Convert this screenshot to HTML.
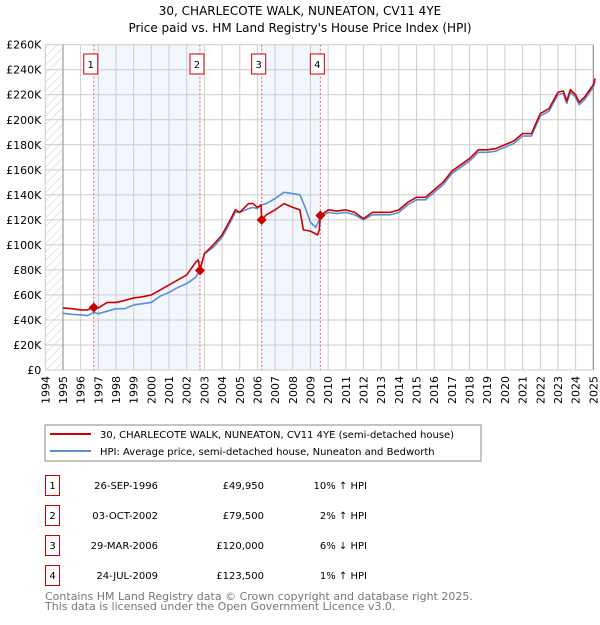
<!DOCTYPE html>
<html><head><meta charset="utf-8"><style>
body{margin:0;background:#fff;}
svg text{font-family:"DejaVu Sans","Liberation Sans",sans-serif;}
</style></head><body>
<svg id="c" width="600" height="620" viewBox="0 0 600 620" xmlns="http://www.w3.org/2000/svg">
<defs><pattern id="hatch" width="6" height="6" patternUnits="userSpaceOnUse" patternTransform="rotate(45)"><line x1="0" y1="0" x2="0" y2="6" stroke="#ccc" stroke-width="1"/></pattern></defs>
<text x="300" y="15" text-anchor="middle" font-size="12" fill="#000">30, CHARLECOTE WALK, NUNEATON, CV11 4YE</text>
<text x="300" y="32" text-anchor="middle" font-size="12" fill="#000">Price paid vs. HM Land Registry's House Price Index (HPI)</text>
<g id="plot"></g>
<rect x="45" y="425" width="436" height="36" fill="#fff" stroke="#888"/>
<line x1="50" y1="434" x2="91" y2="434" stroke="#cc0000" stroke-width="2"/>
<text x="100" y="438" font-size="10">30, CHARLECOTE WALK, NUNEATON, CV11 4YE (semi-detached house)</text>
<line x1="50" y1="451" x2="91" y2="451" stroke="#5b8fd4" stroke-width="2"/>
<text x="100" y="455" font-size="10">HPI: Average price, semi-detached house, Nuneaton and Bedworth</text>
<g id="table" font-size="10"></g>
<text x="45" y="600" font-size="11" fill="#777">Contains HM Land Registry data © Crown copyright and database right 2025.</text>
<text x="45" y="610" font-size="11" fill="#777">This data is licensed under the Open Government Licence v3.0.</text>
</svg>
<script>
const yTicks=[0,20,40,60,80,100,120,140,160,180,200,220,240,260];
const xYears=[1994,1995,1996,1997,1998,1999,2000,2001,2002,2003,2004,2005,2006,2007,2008,2009,2010,2011,2012,2013,2014,2015,2016,2017,2018,2019,2020,2021,2022,2023,2024,2025];
const saleDates=[1996.74,2002.75,2006.24,2009.56];
const salePrices=[49.95,79.5,120,123.5];
const saleLabels=["26-SEP-1996","03-OCT-2002","29-MAR-2006","24-JUL-2009"];
const salePriceText=["£49,950","£79,500","£120,000","£123,500"];
const saleHpiText=["10% ↑ HPI","2% ↑ HPI","6% ↓ HPI","1% ↑ HPI"];
const hpiDates=[1995,1995.5,1996,1996.4,1996.74,1997,1997.5,1998,1998.5,1999,1999.5,2000,2000.5,2001,2001.5,2002,2002.5,2002.75,2003,2003.5,2004,2004.5,2004.75,2005,2005.5,2005.75,2006,2006.2,2006.5,2007,2007.5,2008,2008.4,2008.7,2009,2009.3,2009.5,2009.56,2010,2010.5,2011,2011.5,2012,2012.5,2013,2013.5,2014,2014.5,2015,2015.5,2016,2016.5,2017,2017.5,2018,2018.5,2019,2019.5,2020,2020.5,2021,2021.5,2022,2022.5,2023,2023.3,2023.5,2023.7,2024,2024.2,2024.5,2025,2025.1];
const hpiValues=[45.3,44.5,44,43.5,46,45,47,49,49,52,53,54,59,62,66,69,74,80,93,98,106,119,126,126,129,130,129,132,133,137,142,141,140,130,118,114,120,122,126,125,126,124,120,124,124,124,126,132,136,136,142,148,157,162,167,174,174,175,178,181,187,187,203,207,220,221,213,222,218,212,216,226,231];
const priceDates=[1995,1995.5,1996,1996.4,1996.74,1997,1997.5,1998,1998.5,1999,1999.5,2000,2000.5,2001,2001.5,2002,2002.5,2002.65,2002.75,2003,2003.5,2004,2004.5,2004.75,2005,2005.5,2005.75,2006,2006.2,2006.24,2006.5,2007,2007.5,2008,2008.4,2008.6,2009,2009.4,2009.5,2009.56,2010,2010.5,2011,2011.5,2012,2012.5,2013,2013.5,2014,2014.5,2015,2015.5,2016,2016.5,2017,2017.5,2018,2018.5,2019,2019.5,2020,2020.5,2021,2021.5,2022,2022.5,2023,2023.3,2023.5,2023.7,2024,2024.2,2024.5,2025,2025.1];
const priceValues=[49.6,49,48,48,50.5,49.6,54,54,55.6,57.6,58.5,60,64,68,72,76,86,88,80,93,100,108,121,128,126,133,133,130,132,120,124,128,133,130,128,112,111,108,112,123.5,128,127,128,126,121,126,126,126,128,134,138,138,144,150,159,164,169,176,176,177,180,183,189,189,205,209,222,223,215,224,220,214,218,228,233];
const NS='http://www.w3.org/2000/svg';
const X0=45.3,X1=593.3,Y0=370,Y1=44.7;
const xs=t=>X0+(t-1994)/(2025-1994)*(X1-X0);
const ys=v=>Y0-v/260*(Y0-Y1);
const plot=document.getElementById('plot');
function mk(tag,attrs,parent){const e=document.createElementNS(NS,tag);for(const k in attrs)e.setAttribute(k,attrs[k]);(parent||plot).appendChild(e);return e;}
for(const [a,b] of [[0,1],[2,3]]){
 const r=mk('rect',{x:xs(saleDates[a]),y:Y1,width:xs(saleDates[b])-xs(saleDates[a]),height:Y0-Y1,fill:'#eef3fc',opacity:0.75});
 
 
}
const h=mk('rect',{x:X0,y:Y1,width:xs(1995)-X0,height:Y0-Y1,fill:'url(#hatch)'});


for(const v of yTicks){
 const l=mk('line',{x1:X0,x2:X1,y1:ys(v),y2:ys(v),stroke:'#ccc','stroke-width':1});
 
 
 const t=mk('text',{x:X0-4,y:ys(v)+4,'text-anchor':'end','font-size':11});
 t.textContent=v===0?'£0':'£'+v+'K';
 
 
}
for(const yr of xYears){
 const l=mk('line',{x1:xs(yr),x2:xs(yr),y1:Y1,y2:Y0,stroke:'#ccc','stroke-width':1});
 
 
 const t=mk('text',{x:0,y:0,'text-anchor':'end','font-size':11,transform:`translate(${xs(yr)+4},${Y0+6}) rotate(-90)`});
 t.textContent=yr;
 
 
}
mk('line',{x1:xs(1995),x2:xs(1995),y1:Y1,y2:Y0,stroke:'#888'});
mk('line',{x1:X1,x2:X1,y1:Y1,y2:Y0,stroke:'#888'});
saleDates.forEach((d,i)=>{
 const l=mk('line',{x1:xs(d),x2:xs(d),y1:Y1,y2:Y0,stroke:'#f06060','stroke-dasharray':'2,2','stroke-width':1});
 
 
 const b=mk('rect',{x:xs(d)-10,y:54,width:14,height:20,fill:'#fff',stroke:'#cc0000'});
 
 
 const t=mk('text',{x:xs(d)-3,y:68,'text-anchor':'middle','font-size':10});
 t.textContent=i+1;
 
 
});
function line(ds,vs,color,name){
 const p=mk('polyline',{points:ds.map((d,i)=>xs(d)+','+ys(vs[i])).join(' '),fill:'none',stroke:color,'stroke-width':1.6,'stroke-linejoin':'round'});
 
 
}
line(hpiDates,hpiValues,'#5b8fd4','hpi-line');
line(priceDates,priceValues,'#cc0000','price-paid-line');
saleDates.forEach((d,i)=>{
 const x=xs(d),y=ys(salePrices[i]);
 const m=mk('polygon',{points:`${x},${y-5} ${x+5},${y} ${x},${y+5} ${x-5},${y}`,fill:'#cc0000'});
 
 
});
const tb=document.getElementById('table');
saleDates.forEach((d,i)=>{
 const y0=475+i*30;
 const b=mk('rect',{x:45.5,y:y0+0.5,width:14,height:20,fill:'#fff',stroke:'#cc0000'},tb);
 
 
 const t0=mk('text',{x:52.5,y:y0+14,'text-anchor':'middle'},tb);t0.textContent=i+1;
 
 
 const t1=mk('text',{x:158,y:y0+14,'text-anchor':'end'},tb);t1.textContent=saleLabels[i];
 
 
 const t2=mk('text',{x:264,y:y0+14,'text-anchor':'end'},tb);t2.textContent=salePriceText[i];
 
 
 const t3=mk('text',{x:367,y:y0+14,'text-anchor':'end'},tb);t3.textContent=saleHpiText[i];
 
 
});
</script>
</body></html>
